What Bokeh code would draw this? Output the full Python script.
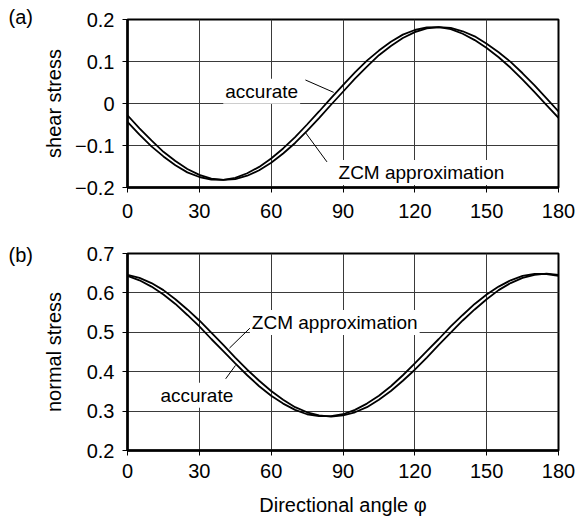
from bokeh.plotting import figure
from bokeh.layouts import column
from bokeh.models import Range1d, FixedTicker, CustomJSTickFormatter, Label
from bokeh.embed import file_html
from bokeh.resources import INLINE

# ---- data ----
phi = [0, 5, 10, 15, 20, 25, 30, 35, 40, 45, 50, 55, 60, 65, 70, 75, 80, 85, 90,
       95, 100, 105, 110, 115, 120, 125, 130, 135, 140, 145, 150, 155, 160, 165,
       170, 175, 180]

shear_accurate = [-0.044, -0.074, -0.102, -0.126, -0.147, -0.164, -0.175, -0.181,
                  -0.182, -0.177, -0.166, -0.151, -0.131, -0.107, -0.080, -0.050,
                  -0.019, 0.013, 0.044, 0.074, 0.102, 0.126, 0.147, 0.164, 0.175,
                  0.181, 0.182, 0.177, 0.166, 0.151, 0.132, 0.110, 0.085, 0.057,
                  0.027, -0.004, -0.034]
shear_zcm = [-0.028, -0.059, -0.088, -0.115, -0.137, -0.156, -0.170, -0.179,
             -0.182, -0.180, -0.172, -0.159, -0.141, -0.119, -0.094, -0.065,
             -0.035, -0.003, 0.028, 0.059, 0.088, 0.115, 0.137, 0.156, 0.170,
             0.179, 0.182, 0.180, 0.172, 0.160, 0.142, 0.122, 0.099, 0.072,
             0.043, 0.012, -0.019]

normal_accurate = [0.643, 0.632, 0.616, 0.596, 0.572, 0.544, 0.515, 0.483, 0.452,
                   0.421, 0.391, 0.363, 0.339, 0.319, 0.303, 0.292, 0.287, 0.287,
                   0.292, 0.303, 0.319, 0.339, 0.363, 0.391, 0.421, 0.452, 0.483,
                   0.515, 0.544, 0.572, 0.596, 0.616, 0.632, 0.643, 0.648, 0.648,
                   0.643]
normal_zcm = [0.646, 0.638, 0.625, 0.607, 0.584, 0.558, 0.530, 0.499, 0.468,
              0.436, 0.405, 0.377, 0.351, 0.329, 0.310, 0.297, 0.289, 0.286,
              0.289, 0.297, 0.310, 0.329, 0.351, 0.377, 0.405, 0.436, 0.468,
              0.499, 0.530, 0.558, 0.584, 0.607, 0.625, 0.638, 0.646, 0.649,
              0.646]

x_ticks = [0, 30, 60, 90, 120, 150, 180]
shear_ticks = [-0.2, -0.1, 0, 0.1, 0.2]
normal_ticks = [0.2, 0.3, 0.4, 0.5, 0.6, 0.7]

# annotation texts and leader lines (data coordinates)
top_labels = [("accurate", 40.0, 0.029), ("ZCM approximation", 87.3, -0.1644)]
top_leaders = [((74.3, 86.1), (0.056, 0.0265)), ((83.3, 74.3), (-0.139, -0.069))]
bot_labels = [("ZCM approximation", 51.1, 0.525), ("accurate", 12.9, 0.340)]
bot_leaders = [((51.7, 42.6), (0.514, 0.460)), ((41.0, 45.1), (0.382, 0.416))]

FONT = "Liberation Sans"
fmt = CustomJSTickFormatter(code="""
if (Math.abs(tick) < 1e-9) { return "0"; }
return tick.toFixed(1).replace("-", "\\u2212");
""")


def make_fig(height, top, bottom, yr, yticks, ylabel, ystandoff, xstandoff,
             panel_tag, tag_standoff):
    p = figure(width=578, height=height, output_backend="svg", toolbar_location=None,
               x_range=Range1d(0, 180), y_range=Range1d(*yr),
               min_border_left=127, min_border_right=20,
               min_border_top=top, min_border_bottom=bottom)
    p.outline_line_color = "black"
    p.outline_line_width = 2
    p.background_fill_color = "white"
    p.border_fill_color = "white"
    p.title.text = panel_tag
    p.title.align = "left"
    p.title.offset = -119
    p.title.standoff = tag_standoff
    p.title.text_font = FONT
    p.title.text_font_size = "20px"
    p.title.text_font_style = "normal"
    p.title.text_color = "black"
    p.xaxis.ticker = FixedTicker(ticks=x_ticks)
    p.yaxis.ticker = FixedTicker(ticks=yticks)
    p.yaxis.formatter = fmt
    for ax in (p.xaxis[0], p.yaxis[0]):
        ax.axis_line_width = 2.5
        ax.axis_line_color = "black"
        ax.major_tick_out = 5
        ax.major_tick_in = 0
        ax.major_tick_line_color = "black"
        ax.minor_tick_line_color = None
        ax.major_label_text_font = FONT
        ax.major_label_text_font_size = "20px"
        ax.major_label_text_color = "black"
        ax.axis_label_text_font = FONT
        ax.axis_label_text_font_size = "20px"
        ax.axis_label_text_font_style = "normal"
        ax.axis_label_text_color = "black"
    p.xaxis.major_label_standoff = xstandoff
    p.yaxis.major_label_standoff = 8
    p.yaxis.axis_label = ylabel
    p.yaxis.axis_label_standoff = ystandoff
    p.xgrid.ticker = FixedTicker(ticks=x_ticks)
    p.ygrid.ticker = FixedTicker(ticks=yticks)
    for g in (p.xgrid[0], p.ygrid[0]):
        g.grid_line_color = "#3a3a3a"
        g.grid_line_width = 1
    return p


def add_notes(p, labels, leaders):
    for lab, x, y in labels:
        p.add_layout(Label(x=x, y=y, text=lab, text_font=FONT, text_font_size="19px",
                           text_color="black", text_baseline="alphabetic",
                           background_fill_color="white", padding=2))
    for xs, ys in leaders:
        p.line(list(xs), list(ys), line_color="black", line_width=1)


# ---- (a) shear stress ----
p1 = make_fig(243, 19, 56, (-0.2, 0.2), shear_ticks, "shear stress", 7, 11, "(a)", -17)
add_notes(p1, top_labels, top_leaders)
p1.line(phi, shear_accurate, line_color="black", line_width=1.8)
p1.line(phi, shear_zcm, line_color="black", line_width=1.8)

# ---- (b) normal stress ----
p2 = make_fig(275, 10, 67, (0.2, 0.7), normal_ticks, "normal stress", 19, 8, "(b)", -24)
p2.xaxis.axis_label = "Directional angle \u03c6"
p2.xaxis.axis_label_standoff = 13
add_notes(p2, bot_labels, bot_leaders)
p2.line(phi, normal_accurate, line_color="black", line_width=1.8)
p2.line(phi, normal_zcm, line_color="black", line_width=1.8)

layout = column(p1, p2, spacing=0)
open("out.html", "w").write(file_html(layout, INLINE))
